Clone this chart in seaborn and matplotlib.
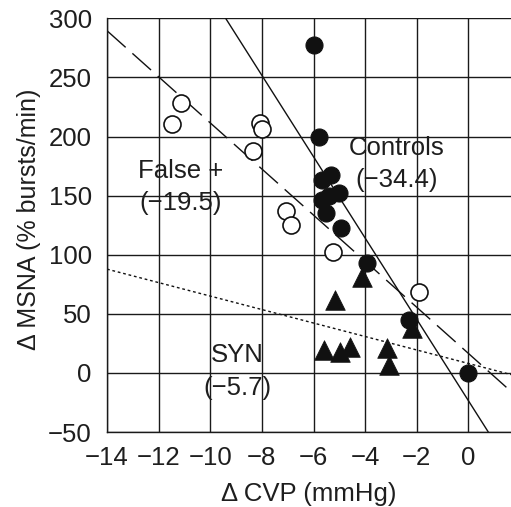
import matplotlib
matplotlib.use("Agg")
import matplotlib.pyplot as plt
import seaborn as sns
import numpy as np
import pandas as pd

# ---- data ----
ctrl_x = [-6.0, -5.8, -5.66, -5.31, -5.02, -5.66, -5.4, -5.53, -4.95, -3.92, -2.30, 0.0]
ctrl_y = [277, 200, 163.6, 167.7, 152.3, 146.6, 149.4, 135.3, 122.6, 92.9, 44.7, 0.3]

fp_x = [-11.13, -11.48, -8.08, -7.99, -8.34, -7.05, -6.86, -5.25, -1.92]
fp_y = [228.7, 210.9, 211.7, 206.6, 187.6, 136.7, 124.8, 101.9, 68.8]

syn_x = [-4.14, -5.15, -5.6, -4.98, -4.59, -3.17, -3.08, -2.17]
syn_y = [81.5, 61.7, 19.3, 17.8, 22.0, 20.7, 6.5, 37.7]

# regression lines (slope from labels, intercept)
fit_names = ["Controls", "False +", "SYN"]
fit_slopes = [-34.4, -19.5, -5.7]
fit_intercepts = [-23.5, 16.5, 8.0]
fit_labels = ["(\u221234.4)", "(\u221219.5)", "(\u22125.7)"]

x_ticks = [-14, -12, -10, -8, -6, -4, -2, 0]
y_ticks = [-50, 0, 50, 100, 150, 200, 250, 300]

sns.set_style("white")
plt.rcParams["font.family"] = ["Liberation Sans", "DejaVu Sans"]

fig = plt.figure(figsize=(5.11, 5.07), dpi=100)
ax = fig.add_axes([0.2094, 0.1479, 0.7906, 0.8160])

df = pd.concat([
    pd.DataFrame({"x": fp_x, "y": fp_y, "g": "False +"}),
    pd.DataFrame({"x": ctrl_x, "y": ctrl_y, "g": "Controls"}),
    pd.DataFrame({"x": syn_x, "y": syn_y, "g": "SYN"}),
])

ax.set_xlim(-14, 1.65)
ax.set_ylim(-50, 300)
ax.set_xticks(x_ticks)
ax.set_yticks(y_ticks)
ax.grid(True, color="#1a1a1a", linewidth=1.0)
ax.set_axisbelow(True)

# regression lines
styles = {"Controls": dict(linestyle="-"),
          "False +": dict(linestyle=(0, (18, 6.5))),
          "SYN": dict(linestyle=(0, (2, 2)))}
for name, m, b in zip(fit_names, fit_slopes, fit_intercepts):
    ax.axline((0, b), slope=m, color="#111111", linewidth=1.0, zorder=2, **styles[name])

sns.scatterplot(data=df[df.g == "False +"], x="x", y="y", ax=ax, marker="o",
                s=150, facecolor="white", edgecolor="#111111", linewidth=1.2, zorder=3)
sns.scatterplot(data=df[df.g == "Controls"], x="x", y="y", ax=ax, marker="o",
                s=150, color="#111111", edgecolor="#111111", linewidth=0.8, zorder=4)
sns.scatterplot(data=df[df.g == "SYN"], x="x", y="y", ax=ax, marker="^",
                s=200, color="#111111", edgecolor="#111111", linewidth=0.5, zorder=4)

fs = 18.5
tc = "#1e1e1e"
ax.text(-11.14, 170.6, "False +", ha="center", va="center", fontsize=fs, color=tc)
ax.text(-11.14, 143.8, fit_labels[1], ha="center", va="center", fontsize=fs, color=tc)
ax.text(-2.80, 190.5, "Controls", ha="center", va="center", fontsize=fs, color=tc)
ax.text(-2.80, 163.6, fit_labels[0], ha="center", va="center", fontsize=fs, color=tc)
ax.text(-8.96, 15, "SYN", ha="center", va="center", fontsize=fs, color=tc)
ax.text(-8.96, -12.5, fit_labels[2], ha="center", va="center", fontsize=fs, color=tc)

ax.set_xlabel("\u0394 CVP (mmHg)", fontsize=fs, color=tc, labelpad=9)
ax.set_ylabel("\u0394 MSNA (% bursts/min)", fontsize=18, color=tc)
ax.yaxis.set_label_coords(-0.163, 0.515)
ax.tick_params(axis="x", labelsize=fs, colors=tc, direction="out",
               length=5, width=0.9, pad=5)
ax.tick_params(axis="y", labelsize=fs, colors=tc, direction="out",
               length=5, width=0.9, pad=6)

for s in ["top", "right"]:
    ax.spines[s].set_visible(False)
for s in ["left", "bottom"]:
    ax.spines[s].set_color("#1a1a1a")
    ax.spines[s].set_linewidth(1.0)

fig.savefig("out.png", dpi=100)
